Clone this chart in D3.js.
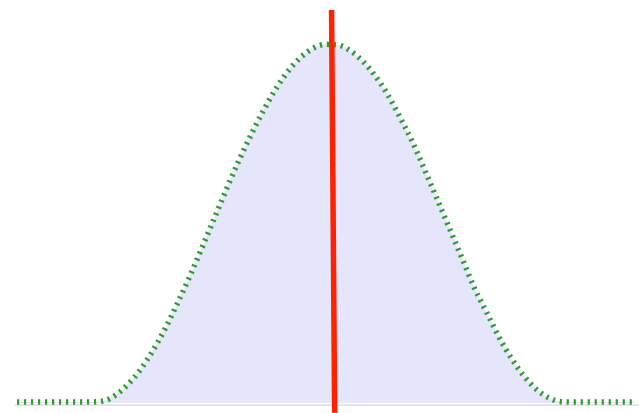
<!DOCTYPE html>
<html>
<head>
<meta charset="utf-8">
<script src="https://cdn.jsdelivr.net/npm/d3@7"></script>
<style>
  html, body { margin: 0; padding: 0; background: #ffffff; }
  svg { display: block; }
</style>
</head>
<body>
<svg id="chart" width="639" height="413"></svg>
<script>
// x positions of the sampled curve
const xs = [0,2,4,6,8,10,12,14,16,18,20,22,24,26,28,30,32,34,36,38,40,42,44,46,48,50,
            52,54,56,58,60,62,64,66,68,70,72,74,76,78,80,82,84,86,88,90,92,94,96,98,100];
// curve heights (relative, peak = 1)
const ys = [0,0,0,0,0,0,0,0.003,0.02,0.05,0.091,0.144,0.206,0.277,0.353,0.434,0.516,0.599,0.678,0.751,
            0.818,0.878,0.927,0.964,0.989,0.999,0.997,0.98,0.951,0.91,0.858,0.794,0.726,0.647,0.566,
            0.484,0.402,0.319,0.25,0.181,0.122,0.073,0.036,0.012,0.001,0,0,0,0,0,0];
// vertical marker line (slightly slanted in the reference)
const markerX = [50.9, 51.4];
const markerY = [1.095, -0.03];

const svg = d3.select("#chart");
const defs = svg.append("defs");
defs.append("filter").attr("id", "soft")
  .append("feGaussianBlur").attr("stdDeviation", 0.45);

const x = d3.scaleLinear().domain([0, 100]).range([17, 635]);
const y = d3.scaleLinear().domain([0, 1]).range([402, 44]);

const data = xs.map((v, i) => ({ x: v, y: ys[i] }));

// baseline
svg.append("line")
  .attr("x1", 15).attr("x2", 639)
  .attr("y1", 405).attr("y2", 405)
  .attr("stroke", "#dcdcdc").attr("stroke-width", 1.5);

// area
svg.append("path")
  .datum(data)
  .attr("fill", "#e5e5fb")
  .attr("d", d3.area().x(d => x(d.x)).y0(y(0) + 1).y1(d => y(d.y)).curve(d3.curveMonotoneX));

// dotted line
svg.append("path")
  .datum(data)
  .attr("fill", "none")
  .attr("stroke", "#2f9c2f")
  .attr("stroke-width", 5.5)
  .attr("stroke-dasharray", "2.2,4.8")
  .attr("stroke-linecap", "butt")
  .attr("filter", "url(#soft)")
  .attr("d", d3.line().x(d => x(d.x)).y(d => y(d.y)).curve(d3.curveMonotoneX));

// red marker
svg.append("line")
  .attr("x1", x(markerX[0])).attr("y1", y(markerY[0]))
  .attr("x2", x(markerX[1])).attr("y2", y(markerY[1]))
  .attr("stroke", "#ff2200").attr("stroke-width", 5.5);
</script>
</body>
</html>
